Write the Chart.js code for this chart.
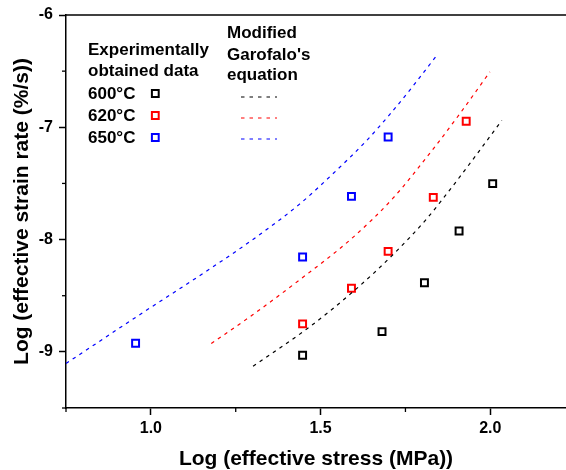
<!DOCTYPE html>
<html>
<head>
<meta charset="utf-8">
<script src="https://cdn.jsdelivr.net/npm/chart.js@4"></script>
<style>
html,body{margin:0;padding:0;background:#fff;}
#wrap{width:566px;height:470px;}
</style>
</head>
<body>
<div id="wrap"><canvas id="c" width="566" height="470"></canvas></div>
<script>
// ---- data ----
const xMajorTicks = [1.0, 1.5, 2.0];
const xMinorTicks = [0.75, 1.25, 1.75];
const yMajorTicks = [-9, -8, -7, -6];
const yMinorTicks = [-9.5, -8.5, -7.5, -6.5];

const exp600X = [1.447, 1.681, 1.806, 1.908, 2.007];
const exp600Y = [-9.03, -8.82, -8.385, -7.924, -7.502];
const exp620X = [1.447, 1.591, 1.699, 1.832, 1.929];
const exp620Y = [-8.751, -8.433, -8.105, -7.624, -6.946];
const exp650X = [0.955, 1.447, 1.591, 1.699];
const exp650Y = [-8.923, -8.156, -7.615, -7.086];

const fit600X = [1.301, 1.468, 1.596, 1.709, 1.812, 1.891, 1.960, 2.034];
const fit600Y = [-9.128, -8.777, -8.463, -8.147, -7.817, -7.517, -7.241, -6.938];
const fit620X = [1.178, 1.30, 1.439, 1.591, 1.714, 1.832, 1.911, 1.999];
const fit620Y = [-8.926, -8.670, -8.357, -7.992, -7.629, -7.192, -6.876, -6.506];
const fit650X = [0.75, 0.957, 1.183, 1.321, 1.439, 1.537, 1.635, 1.704, 1.773, 1.842];
const fit650Y = [-9.104, -8.689, -8.243, -7.955, -7.682, -7.412, -7.120, -6.885, -6.630, -6.361];

const seriesLabels = ['600°C', '620°C', '650°C'];
const seriesColors = ['#000000', '#ff0000', '#0000ff'];
const legendHeadLeft = ['Experimentally', 'obtained data'];
const legendHeadRight = ['Modified', "Garofalo's", 'equation'];

const xTitle = 'Log (effective stress (MPa))';
const yTitle = 'Log (effective strain rate (%/s))';

const FONT = '"Liberation Sans", Arial, sans-serif';

function pts(xs, ys){ return xs.map((x,i)=>({x:x, y:ys[i]})); }

const expSets = [[exp600X,exp600Y],[exp620X,exp620Y],[exp650X,exp650Y]];
const fitSets = [[fit600X,fit600Y],[fit620X,fit620Y],[fit650X,fit650Y]];

const datasets = [];
fitSets.forEach((s,i)=>{
  datasets.push({
    label: 'fit ' + seriesLabels[i],
    data: pts(s[0], s[1]),
    showLine: true,
    pointRadius: 0,
    borderColor: seriesColors[i],
    borderWidth: 1.2,
    borderDash: [3.5,4.5],
    cubicInterpolationMode: 'monotone',
    fill: false
  });
});
expSets.forEach((s,i)=>{
  datasets.push({
    label: seriesLabels[i],
    data: pts(s[0], s[1]),
    showLine: false,
    pointStyle: 'rect',
    pointRadius: 4.9,
    pointHoverRadius: 4.9,
    borderColor: seriesColors[i],
    backgroundColor: '#ffffff',
    borderWidth: 2
  });
});

const decorPlugin = {
  id: 'decor',
  afterDraw(chart){
    const ctx = chart.ctx;
    const xs = chart.scales.x, ys = chart.scales.y;
    const ca = chart.chartArea;
    ctx.save();
    // top frame line
    ctx.strokeStyle = '#000';
    ctx.lineWidth = 1.5;
    ctx.beginPath();
    ctx.moveTo(ca.left, ca.top);
    ctx.lineTo(chart.width, ca.top);
    ctx.stroke();
    // minor ticks
    ctx.lineWidth = 1.3;
    xMinorTicks.forEach(v=>{
      const px = xs.getPixelForValue(v);
      ctx.beginPath(); ctx.moveTo(px, ca.bottom); ctx.lineTo(px, ca.bottom + 4); ctx.stroke();
    });
    yMinorTicks.forEach(v=>{
      const py = ys.getPixelForValue(v);
      ctx.beginPath(); ctx.moveTo(ca.left, py); ctx.lineTo(ca.left - 4, py); ctx.stroke();
    });
    // legend
    ctx.fillStyle = '#000';
    ctx.font = 'bold 17px ' + FONT;
    ctx.textBaseline = 'middle';
    ctx.textAlign = 'left';
    const lx = 88, rx = 227;
    const headYs = [50, 71];
    legendHeadLeft.forEach((t,i)=>ctx.fillText(t, lx, headYs[i]));
    const rHeadYs = [33, 55, 75];
    legendHeadRight.forEach((t,i)=>ctx.fillText(t, rx, rHeadYs[i]));
    const rowYs = [94, 116, 138];
    const dashYs = [97, 118, 139];
    seriesLabels.forEach((t,i)=>{
      ctx.fillStyle = '#000';
      ctx.fillText(t, lx, rowYs[i]);
      // marker
      const s = 3.4;
      ctx.strokeStyle = seriesColors[i];
      ctx.lineWidth = 2;
      ctx.fillStyle = '#fff';
      ctx.beginPath(); ctx.rect(155.3 - s, rowYs[i] - 0.5 - s, 2*s, 2*s); ctx.fill(); ctx.stroke();
      // dashed line
      ctx.lineWidth = 1.2;
      ctx.setLineDash([3.5,5]);
      ctx.beginPath(); ctx.moveTo(241, dashYs[i]); ctx.lineTo(277, dashYs[i]); ctx.stroke();
      ctx.setLineDash([]);
    });
    ctx.restore();
  }
};

new Chart(document.getElementById('c'), {
  type: 'scatter',
  data: { datasets },
  options: {
    responsive: false,
    animation: false,
    events: [],
    layout: { autoPadding: false, padding: { left: 0, top: 15, right: 0, bottom: 0 } },
    plugins: { legend: { display: false }, tooltip: { enabled: false } },
    scales: {
      x: {
        type: 'linear',
        min: 0.75,
        max: 2.223,
        afterBuildTicks: s => { s.ticks = xMajorTicks.map(v=>({value:v})); },
        afterFit: s => { s.height = 62; s.paddingLeft = 0; s.paddingRight = 0; },
        ticks: {
          color: '#000',
          font: { family: FONT, size: 16, weight: 'bold' },
          padding: 4,
          maxRotation: 0,
          callback: v => Number(v).toFixed(1)
        },
        grid: { drawOnChartArea: false, drawTicks: true, tickLength: 7, tickColor: '#000', tickWidth: 1.5 },
        border: { display: true, color: '#000', width: 1.5 },
        title: {
          display: true, text: xTitle, color: '#000',
          font: { family: FONT, size: 21, weight: 'bold', lineHeight: 1.0 },
          padding: { top: 0, bottom: 0 }
        }
      },
      y: {
        type: 'linear',
        min: -9.5,
        max: -6,
        afterBuildTicks: s => { s.ticks = yMajorTicks.map(v=>({value:v})); },
        afterFit: s => { s.width = 66; s.paddingTop = 0; s.paddingBottom = 0; },
        ticks: {
          color: '#000',
          font: { family: FONT, size: 16, weight: 'bold' },
          padding: 6,
          callback: v => String(v)
        },
        grid: { drawOnChartArea: false, drawTicks: true, tickLength: 7, tickColor: '#000', tickWidth: 1.5 },
        border: { display: true, color: '#000', width: 1.5 },
        title: {
          display: true, text: yTitle, color: '#000',
          font: { family: FONT, size: 21, weight: 'bold', lineHeight: 1.2 },
          padding: { top: 10, bottom: 0 }
        }
      }
    }
  },
  plugins: [decorPlugin]
});
</script>
</body>
</html>
